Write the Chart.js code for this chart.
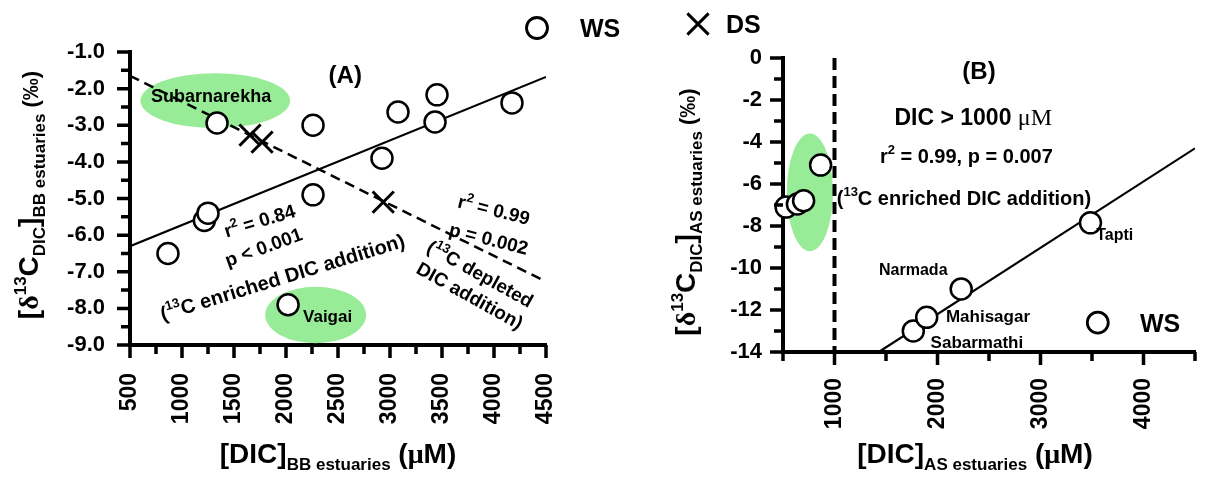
<!DOCTYPE html>
<html>
<head>
<meta charset="utf-8">
<script src="https://cdn.jsdelivr.net/npm/chart.js@4.4.1/dist/chart.umd.min.js"></script>
<style>
  html, body { margin: 0; padding: 0; background: #fff; }
  #wrap { position: relative; width: 1208px; height: 477px; overflow: hidden; }
  canvas { position: absolute; top: 0; }
  #chartA { left: 0; }
  #chartB { left: 620px; }
</style>
</head>
<body>
<div id="wrap">
  <canvas id="chartA" width="620" height="477"></canvas>
  <canvas id="chartB" width="588" height="477"></canvas>
</div>
<script>
// ---- panel A : BB estuaries ----
const dicWsA  = [865, 1215, 1250, 1337, 2020, 2260, 2260, 2923, 3077, 3433, 3452, 4173];
const d13cWsA = [-6.5, -5.6, -5.4, -2.94, -7.9, -3.0, -4.9, -3.9, -2.64, -2.91, -2.17, -2.39];
const dicDsA  = [1654, 1770, 2935];
const d13cDsA = [-3.27, -3.46, -5.1];
const fitWsDicA  = [500, 4500];
const fitWsD13cA = [-6.3, -1.68];
const fitDsDicA  = [500, 4450];
const fitDsD13cA = [-1.65, -7.2];
const xTicksA = [500, 1000, 1500, 2000, 2500, 3000, 3500, 4000, 4500];
const yTicksA = [-9, -8, -7, -6, -5, -4, -3, -2, -1];

// ---- panel B : AS estuaries ----
const dicWsB  = [530, 640, 700, 865, 1765, 1895, 2230, 3485];
const d13cWsB = [-7.1, -6.95, -6.8, -5.1, -13.0, -12.35, -11.0, -7.85];
const fitDicB  = [1430, 4500];
const fitD13cB = [-14, -4.3];
const limitDicB  = [1000, 1000];
const limitD13cB = [0, -14];
const xTicksB = [1000, 2000, 3000, 4000];
const yTicksB = [-14, -12, -10, -8, -6, -4, -2, 0];

const SANS = "'Liberation Sans', Arial, sans-serif";
const SERIF = "'Liberation Serif', 'Times New Roman', serif";
const GREEN = '#98ec98';

const pts = (xs, ys) => xs.map((x, i) => ({ x, y: ys[i] }));

// draw a row of text runs: [text, size, dy, serif, weight]
function rich(ctx, runs, x, y, angle, align, mid) {
  ctx.save();
  ctx.translate(x, y);
  ctx.rotate(angle * Math.PI / 180);
  ctx.textBaseline = 'alphabetic';
  ctx.textAlign = 'left';
  ctx.fillStyle = '#000';
  const font = r => `${r[4] || 'bold'} ${r[1]}px ${r[3] ? SERIF : SANS}`;
  let total = 0;
  const widths = runs.map(r => { ctx.font = font(r); const w = ctx.measureText(r[0]).width; total += w; return w; });
  let cx = align === 'left' ? 0 : -total / 2;
  const base = mid ? runs[0][1] * 0.36 : 0;
  runs.forEach((r, i) => {
    ctx.font = font(r);
    ctx.fillText(r[0], cx, base + (r[2] || 0));
    cx += widths[i];
  });
  ctx.restore();
}

function makeDecor(cfg) {
  return {
    id: 'decor',
    beforeDatasetsDraw(chart) {
      const { x, y } = chart.scales;
      const ctx = chart.ctx;
      ctx.save();
      ctx.fillStyle = GREEN;
      cfg.ellipses.forEach(e => {
        const cx = x.getPixelForValue(e.x), cy = y.getPixelForValue(e.y);
        const rx = Math.abs(x.getPixelForValue(e.x + e.rx) - cx);
        const ry = Math.abs(y.getPixelForValue(e.y + e.ry) - cy);
        ctx.beginPath();
        ctx.ellipse(cx, cy, rx, ry, 0, 0, Math.PI * 2);
        ctx.fill();
      });
      ctx.restore();
    },
    afterDatasetsDraw(chart) {
      const { x, y } = chart.scales;
      const ctx = chart.ctx;
      cfg.notes.forEach(n => {
        rich(ctx, n.runs, x.getPixelForValue(n.x), y.getPixelForValue(n.y), n.a || 0, n.align, true);
      });
      (cfg.keys || []).forEach(k => {
        ctx.save();
        ctx.strokeStyle = '#000';
        ctx.fillStyle = '#fff';
        ctx.lineWidth = k.lw;
        Chart.helpers.drawPoint(ctx, { pointStyle: k.style, radius: k.r, borderWidth: k.lw, rotation: 0 },
          x.getPixelForValue(k.x), y.getPixelForValue(k.y));
        ctx.restore();
      });
    },
    afterDraw(chart) {
      const { x, y } = chart.scales;
      const ctx = chart.ctx;
      ctx.save();
      ctx.strokeStyle = '#000';
      ctx.lineWidth = 3.5;
      ctx.beginPath();
      x.ticks.forEach(t => {
        const p = x.getPixelForValue(t.value);
        const L = t.label ? 13 : 9;
        ctx.moveTo(p, x.top); ctx.lineTo(p, x.top + L);
      });
      y.ticks.forEach(t => {
        const p = y.getPixelForValue(t.value);
        const L = t.label ? 13 : 9;
        ctx.moveTo(y.right, p); ctx.lineTo(y.right - L, p);
      });
      ctx.stroke();
      ctx.restore();
      cfg.titles.forEach(t => rich(ctx, t.runs, t.px, t.py, t.a, 'center', false));
      cfg.legend.forEach(l => {
        ctx.save();
        ctx.strokeStyle = '#000';
        ctx.fillStyle = '#fff';
        ctx.lineWidth = l.lw;
        Chart.helpers.drawPoint(ctx, { pointStyle: l.style, radius: l.r, borderWidth: l.lw, rotation: 0 }, l.px, l.py);
        ctx.restore();
        rich(ctx, [[l.text, 25]], l.tx, l.py, 0, 'left', true);
      });
    }
  };
}

function scales(xMin, xMax, xStep, xLabels, yMin, yMax, yStep, yLabels, yFmt, yWidth, xHeight, xPad, yPad) {
  const tickFont = { family: SANS, size: 22, weight: 'bold' };
  return {
    x: {
      type: 'linear', min: xMin, max: xMax,
      grid: { display: false, drawTicks: false },
      border: { display: true, width: 4, color: '#000' },
      ticks: {
        stepSize: xStep, autoSkip: false, minRotation: 90, maxRotation: 90,
        padding: xPad, color: '#000', font: { ...tickFont, size: 23 },
        callback: v => xLabels.includes(v) ? String(v) : ''
      },
      afterFit: s => { s.height = xHeight; s.paddingLeft = 0; s.paddingRight = 0; }
    },
    y: {
      type: 'linear', min: yMin, max: yMax,
      grid: { display: false, drawTicks: false },
      border: { display: true, width: 4, color: '#000' },
      ticks: {
        stepSize: yStep, autoSkip: false, padding: yPad, color: '#000', font: tickFont,
        callback: v => yLabels.includes(v) ? yFmt(v) : ''
      },
      afterFit: s => { s.width = yWidth; s.paddingTop = 0; s.paddingBottom = 0; }
    }
  };
}

const wsStyle = { pointStyle: 'circle', pointRadius: 10.5, pointHoverRadius: 10.5, pointBorderWidth: 2.5,
  borderColor: '#000', pointBackgroundColor: '#fff', showLine: false, clip: false };
const dsStyle = { pointStyle: 'crossRot', pointRadius: 15, pointHoverRadius: 15, pointBorderWidth: 3,
  borderColor: '#000', showLine: false };
const lineStyle = { showLine: true, pointRadius: 0, pointHoverRadius: 0, borderColor: '#000', fill: false };

const sub = 17;
const titleA = [
  { px: 38, py: 195, a: -90, runs: [['[', 28], ['δ', 28, 0, true], ['13', sub, -12], ['C', 28], ['DIC', sub, 7], [']', 28], ['BB estuaries', sub, 7], [' (‰)', 22]] },
  { px: 338, py: 463, a: 0, runs: [['[DIC]', 28], ['BB estuaries', sub, 7], [' (', 28], ['μ', 28, 0, true], ['M)', 28]] }
];
const titleB = [
  { px: 75, py: 212, a: -90, runs: [['[', 28], ['δ', 28, 0, true], ['13', sub, -12], ['C', 28], ['DIC', sub, 7], [']', 28], ['AS estuaries', sub, 7], [' (‰)', 22]] },
  { px: 355, py: 463, a: 0, runs: [['[DIC]', 28], ['AS estuaries', sub, 7], [' (', 28], ['μ', 28, 0, true], ['M)', 28]] }
];

new Chart(document.getElementById('chartA'), {
  type: 'scatter',
  data: {
    datasets: [
      { label: 'DS', data: pts(dicDsA, d13cDsA), ...dsStyle, order: 0 },
      { label: 'WS', data: pts(dicWsA, d13cWsA), ...wsStyle, order: 1 },
      { label: 'WS fit', data: pts(fitWsDicA, fitWsD13cA), ...lineStyle, borderWidth: 2.2, order: 2 },
      { label: 'DS fit', data: pts(fitDsDicA, fitDsD13cA), ...lineStyle, borderWidth: 2.5, borderDash: [10, 6], order: 3 }
    ]
  },
  options: {
    responsive: false, animation: false,
    layout: { padding: { top: 52, right: 74, bottom: 0, left: 0 } },
    plugins: { legend: { display: false }, tooltip: { enabled: false } },
    scales: scales(500, 4500, 250, xTicksA, -9, -1, 0.5, yTicksA, v => v.toFixed(1), 130, 132, 28, 25)
  },
  plugins: [makeDecor({
    ellipses: [{ x: 1320, y: -2.33, rx: 720, ry: 0.75 }, { x: 2285, y: -8.18, rx: 485, ry: 0.77 }],
    notes: [
      { x: 2570, y: -1.6, runs: [['(A)', 24]] },
      { x: 1280, y: -2.2, runs: [['Subarnarekha', 18]] },
      { x: 2400, y: -8.21, runs: [['Vaigai', 17]] },
      { x: 1745, y: -5.6, a: -17, runs: [['r', 19], ['2', 13, -8], [' = 0.84', 19]] },
      { x: 1782, y: -6.32, a: -20, runs: [['p < 0.001', 19]] },
      { x: 1965, y: -7.14, a: -17, runs: [['(', 20], ['13', 13, -9], ['C enriched DIC addition)', 20]] },
      { x: 4000, y: -5.3, a: 14, runs: [['r', 19], ['2', 13, -8], [' = 0.99', 19]] },
      { x: 3950, y: -6.09, a: 14, runs: [['p = 0.002', 19]] },
      { x: 3870, y: -7.05, a: 29, runs: [['(', 19], ['13', 13, -8], ['C depleted', 19]] },
      { x: 3770, y: -7.64, a: 29, runs: [['DIC addition)', 19]] }
    ],
    titles: titleA,
    legend: [{ style: 'circle', r: 10.5, lw: 2.8, px: 537, py: 28, text: 'WS', tx: 580 }]
  })]
});

new Chart(document.getElementById('chartB'), {
  type: 'scatter',
  data: {
    datasets: [
      { label: 'WS', data: pts(dicWsB, d13cWsB), ...wsStyle, order: 0 },
      { label: 'WS fit', data: pts(fitDicB, fitD13cB), ...lineStyle, borderWidth: 2.2, order: 1 },
      { label: 'DIC 1000', data: pts(limitDicB, limitD13cB), ...lineStyle, borderWidth: 4, borderDash: [12, 6], order: 2 }
    ]
  },
  options: {
    responsive: false, animation: false,
    layout: { padding: { top: 58, right: 6, bottom: 0, left: 0 } },
    plugins: { legend: { display: false }, tooltip: { enabled: false } },
    scales: scales(500, 4500, 500, xTicksB, -14, 0, 1, yTicksB, v => String(v), 163, 125, 26, 21)
  },
  plugins: [makeDecor({
    ellipses: [{ x: 761, y: -6.4, rx: 224, ry: 2.8 }],
    notes: [
      { x: 2403, y: -0.6, runs: [['(B)', 24]] },
      { x: 2347, y: -2.8, runs: [['DIC > 1000 ', 23], ['μM', 24, 0, true, 'normal']] },
      { x: 2280, y: -4.67, runs: [['r', 20], ['2', 13, -9], [' = 0.99, p = 0.007', 20]] },
      { x: 2257, y: -6.64, runs: [['(', 20], ['13', 13, -9], ['C enriched DIC addition)', 20]] },
      { x: 3541, y: -8.4, align: 'left', runs: [['Tapti', 16]] },
      { x: 1765, y: -10.08, runs: [['Narmada', 16]] },
      { x: 2082, y: -12.3, align: 'left', runs: [['Mahisagar', 17]] },
      { x: 1933, y: -13.52, align: 'left', runs: [['Sabarmathi', 17]] },
      { x: 3966, y: -12.6, align: 'left', runs: [['WS', 25]] }
    ],
    keys: [{ style: 'circle', r: 10.5, lw: 2.8, x: 3556, y: -12.6 }],
    titles: titleB,
    legend: [{ style: 'crossRot', r: 15, lw: 3, px: 78, py: 24, text: 'DS', tx: 106 }]
  })]
});
</script>
</body>
</html>
